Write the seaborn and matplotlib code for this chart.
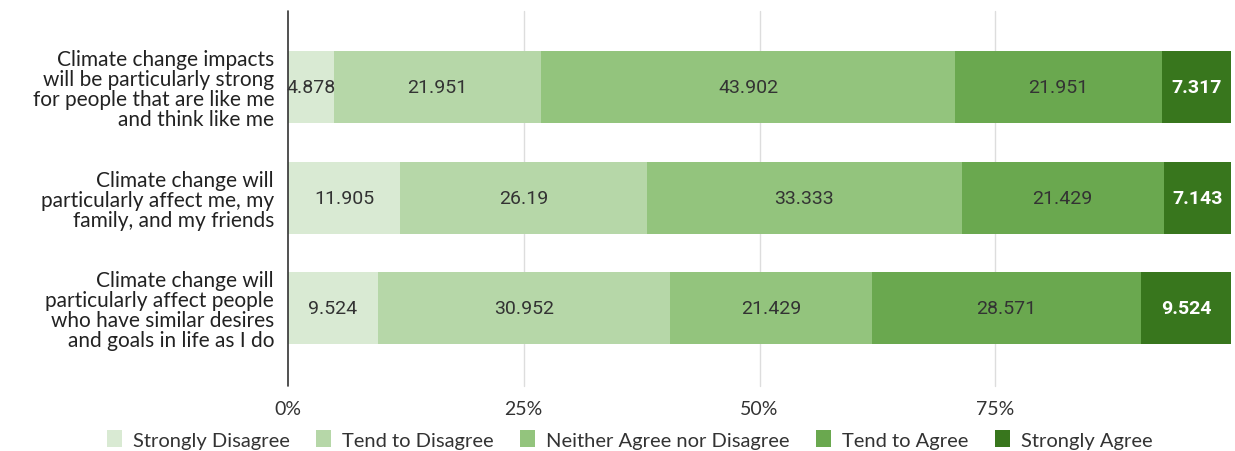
import numpy as np
import pandas as pd
import matplotlib
matplotlib.use("Agg")
import matplotlib.pyplot as plt
import seaborn as sns
from matplotlib.patches import Patch

categories = [
    "Climate change impacts\nwill be particularly strong\nfor people that are like me\nand think like me",
    "Climate change will\nparticularly affect me, my\nfamily, and my friends",
    "Climate change will\nparticularly affect people\nwho have similar desires\nand goals in life as I do",
]
series_names = ["Strongly Disagree", "Tend to Disagree", "Neither Agree nor Disagree",
                "Tend to Agree", "Strongly Agree"]
strongly_disagree = [4.878, 11.905, 9.524]
tend_disagree = [21.951, 26.19, 30.952]
neither = [43.902, 33.333, 21.429]
tend_agree = [21.951, 21.429, 28.571]
strongly_agree = [7.317, 7.143, 9.524]
label_texts = [
    ["4.878", "11.905", "9.524"],
    ["21.951", "26.19", "30.952"],
    ["43.902", "33.333", "21.429"],
    ["21.951", "21.429", "28.571"],
    ["7.317", "7.143", "9.524"],
]
tick_values = [0, 25, 50, 75]
tick_labels = ["0%", "25%", "50%", "75%"]
colors = ["#d9ead3", "#b6d7a8", "#93c47d", "#6aa84f", "#38761d"]

sns.set_theme(style="white")
plt.rcParams["font.family"] = ["Lato", "DejaVu Sans"]

values = np.array([strongly_disagree, tend_disagree, neither, tend_agree, strongly_agree])
cum = np.cumsum(values, axis=0)

fig = plt.figure(figsize=(12.35, 4.52), dpi=100)
ax = fig.add_axes([0.2332, 0.16, 0.7636, 0.813])

for xv in tick_values[1:]:
    ax.axvline(xv, color="#dddddd", lw=1, zorder=0, ymin=-0.02, clip_on=False)

for i in range(len(series_names) - 1, -1, -1):
    df = pd.DataFrame({"cat": categories, "val": cum[i]})
    sns.barplot(data=df, x="val", y="cat", color=colors[i], orient="h", width=0.65,
                saturation=1, ax=ax, zorder=2, linewidth=0, edgecolor="none")

for i in range(len(series_names)):
    for j in range(len(categories)):
        center = cum[i, j] - values[i, j] / 2
        if i == len(series_names) - 1:
            ax.text(center, j, label_texts[i][j], ha="center", va="center", color="white",
                    fontsize=14, fontweight="bold", family="Roboto", zorder=5)
        else:
            ax.text(center, j, label_texts[i][j], ha="center", va="center", color="#333333",
                    fontsize=14, family="Roboto", zorder=5)

ax.axvline(0, color="#333333", lw=1.2, zorder=4, ymin=-0.02, clip_on=False)
ax.set_xlim(0, 100)
ax.set_ylim(2.64, -0.69)
ax.set_xticks(tick_values)
ax.set_xticklabels(tick_labels, fontsize=14, color="#333333")
ax.tick_params(axis="x", length=0, pad=15)
ax.tick_params(axis="y", length=0, pad=10)
for lbl in ax.get_yticklabels():
    lbl.set_fontsize(15)
    lbl.set_color("#222222")
    lbl.set_horizontalalignment("right")
    lbl.set_linespacing(1.0)
ax.set_xlabel("")
ax.set_ylabel("")
for s in ax.spines.values():
    s.set_visible(False)

handles = [Patch(facecolor=c, edgecolor="none") for c in colors]
fig.legend(handles, series_names, loc="lower center", bbox_to_anchor=(0.51, -0.035), ncol=5,
           frameon=False, fontsize=14.5, handlelength=0.75, handleheight=0.9,
           handletextpad=0.55, columnspacing=1.3, labelcolor="#333333")

fig.savefig("out.png", dpi=100, facecolor="white")
